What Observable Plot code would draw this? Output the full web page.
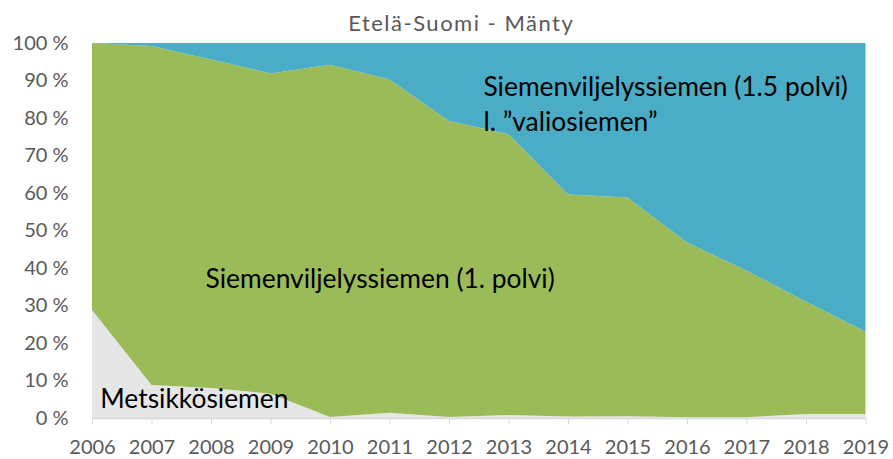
<!DOCTYPE html>
<html>
<head>
<meta charset="utf-8">
<script src="https://cdn.jsdelivr.net/npm/d3@7"></script>
<script src="https://cdn.jsdelivr.net/npm/@observablehq/plot@0.6"></script>
<style>
  html, body { margin: 0; padding: 0; background: #fff; }
  #chart svg { display: block; }
</style>
</head>
<body>
<div id="chart"></div>
<script>
const years = [2006, 2007, 2008, 2009, 2010, 2011, 2012, 2013, 2014, 2015, 2016, 2017, 2018, 2019];
const metsikkosiemen = [28.8, 8.8, 8.0, 6.5, 0.3, 1.4, 0.3, 0.8, 0.4, 0.5, 0.2, 0.2, 1.1, 1.1];
const polvi1 = [71.2, 90.4, 87.6, 85.4, 93.9, 88.9, 78.9, 74.9, 59.2, 58.3, 46.6, 39.1, 29.9, 21.9];
const polvi15 = [0.0, 0.8, 4.4, 8.1, 5.8, 9.7, 20.8, 24.3, 40.4, 41.2, 53.2, 60.7, 69.0, 77.0];
const seriesNames = ["Metsikkösiemen", "Siemenviljelyssiemen (1. polvi)", "Siemenviljelyssiemen (1.5 polvi)"];
const seriesColors = ["#e6e6e6", "#9bbb59", "#4bacc6"];
const yTicks = [0, 10, 20, 30, 40, 50, 60, 70, 80, 90, 100];
const title = "Etelä-Suomi - Mänty";
const labels = [
  {text: "Metsikkösiemen", x: 2006.13, y: 2.7},
  {text: "Siemenviljelyssiemen (1. polvi)", x: 2007.9, y: 34.9},
  {text: "Siemenviljelyssiemen (1.5 polvi)", x: 2012.57, y: 86.1},
  {text: "l. ”valiosiemen”", x: 2012.57, y: 76.8}
];

const seriesValues = [metsikkosiemen, polvi1, polvi15];
const data = [];
seriesNames.forEach((name, i) => {
  years.forEach((yr, j) => data.push({year: yr, series: name, value: seriesValues[i][j]}));
});

const chart = Plot.plot({
  width: 893,
  height: 459,
  marginTop: 43,
  marginLeft: 92,
  marginRight: 27.5,
  marginBottom: 41,
  style: {fontFamily: "Lato, sans-serif", background: "#fff"},
  x: {domain: [2006, 2019], label: null},
  y: {domain: [0, 100], label: null},
  color: {domain: seriesNames, range: seriesColors},
  marks: [
    Plot.areaY(data, {x: "year", y: "value", fill: "series", z: "series", order: seriesNames}),
    Plot.axisY({ticks: yTicks, tickFormat: d => d + " %", tickSize: 0, tickPadding: 24, fontSize: 20, fill: "#595959", label: null}),
    Plot.ruleY([0], {stroke: "#d9d9d9", strokeWidth: 1.5}),
    Plot.axisX({ticks: years, tickFormat: d => String(d), tickSize: 6, tickPadding: 15, fontSize: 20, stroke: "#d9d9d9", fill: "#595959", label: null}),
    Plot.text(labels, {x: "x", y: "y", text: "text", textAnchor: "start", lineAnchor: "bottom", fontSize: 26.4, fill: "#000"}),
    Plot.text([title], {frameAnchor: "top", dx: -18, dy: -13, lineAnchor: "bottom", fontSize: 22, fill: "#595959", text: d => d})
  ]
});
chart.querySelectorAll("text").forEach(t => {
  if (t.textContent === title) t.setAttribute("letter-spacing", "1.5");
});
document.getElementById("chart").appendChild(chart);
</script>
</body>
</html>
